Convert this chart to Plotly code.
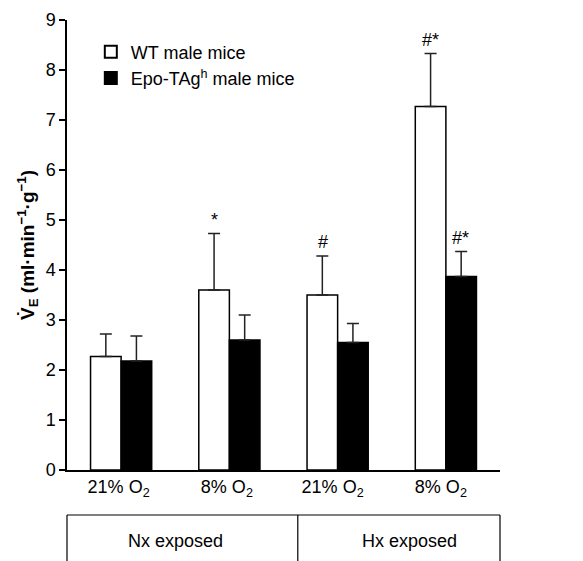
import plotly.graph_objects as go

categories = ["21% O<sub>2</sub> ", "8% O<sub>2</sub> ", "21% O<sub>2</sub>  ", "8% O<sub>2</sub>  "]
wt_values = [2.27, 3.60, 3.50, 7.27]
wt_errors = [0.45, 1.13, 0.78, 1.06]
epo_values = [2.18, 2.60, 2.55, 3.87]
epo_errors = [0.50, 0.50, 0.38, 0.50]
wt_marks = ["", "*", "#", "#*"]
epo_marks = ["", "", "", "#*"]
groups = ["Nx exposed", "Hx exposed"]

font = "Liberation Sans, Arial, sans-serif"

fig = go.Figure()
fig.add_trace(go.Bar(
    x=categories, y=wt_values, name="WT male mice",
    marker=dict(color="white", line=dict(color="black", width=1.5)),
    error_y=dict(type="data", symmetric=False, array=wt_errors,
                 arrayminus=[0] * 4, color="#222", thickness=1.5, width=6),
))
fig.add_trace(go.Bar(
    x=categories, y=epo_values, name="Epo-TAg<sup>h</sup> male mice",
    marker=dict(color="black", line=dict(color="black", width=1.5)),
    error_y=dict(type="data", symmetric=False, array=epo_errors,
                 arrayminus=[0] * 4, color="#222", thickness=1.5, width=6),
))

# significance marks
for i, (v, e, m) in enumerate(zip(wt_values, wt_errors, wt_marks)):
    if m:
        fig.add_annotation(x=categories[i], y=v + e, text=m, showarrow=False,
                           xshift=-15, yshift=14, font=dict(size=18, color="black", family=font))
for i, (v, e, m) in enumerate(zip(epo_values, epo_errors, epo_marks)):
    if m:
        fig.add_annotation(x=categories[i], y=v + e, text=m, showarrow=False,
                           xshift=15, yshift=14, font=dict(size=18, color="black", family=font))

# bottom group box
shapes = [
    dict(type="line", xref="paper", yref="paper", x0=0, x1=1, y0=-0.1, y1=-0.1,
         line=dict(color="black", width=1.2)),
    dict(type="line", xref="paper", yref="paper", x0=0, x1=0, y0=-0.1, y1=-0.3,
         line=dict(color="black", width=1.2)),
    dict(type="line", xref="paper", yref="paper", x0=0.533, x1=0.533, y0=-0.1, y1=-0.3,
         line=dict(color="black", width=1.2)),
    dict(type="line", xref="paper", yref="paper", x0=1, x1=1, y0=-0.1, y1=-0.3,
         line=dict(color="black", width=1.2)),
]
fig.add_annotation(xref="paper", yref="paper", x=0.25, y=-0.157, text=groups[0],
                   xanchor="center", yanchor="middle",
                   showarrow=False, font=dict(size=18, color="black", family=font))
fig.add_annotation(xref="paper", yref="paper", x=0.79, y=-0.157, text=groups[1],
                   xanchor="center", yanchor="middle",
                   showarrow=False, font=dict(size=18, color="black", family=font))

fig.update_layout(
    template="none",
    width=575, height=553,
    margin=dict(l=59, r=83, t=12, b=91),
    paper_bgcolor="white", plot_bgcolor="white",
    barmode="group", bargap=0.435, bargroupgap=0,
    shapes=shapes,
    font=dict(family=font, color="black"),
    legend=dict(x=0.055, y=0.97, xanchor="left", yanchor="top",
                bgcolor="rgba(0,0,0,0)", font=dict(size=18, family=font, color="black"),
                itemsizing="constant", tracegroupgap=0, itemwidth=30),
    showlegend=True,
)
fig.update_xaxes(showline=True, linecolor="black", linewidth=1.5, ticks="",
                 tickfont=dict(size=18, family=font, color="black"), fixedrange=True,
                 showgrid=False, zeroline=False, automargin=False)
fig.update_yaxes(range=[0, 9], dtick=1, showline=True, linecolor="black", linewidth=1.5,
                 ticks="outside", ticklen=6, tickwidth=1.5, tickcolor="black",
                 tickfont=dict(size=18, family=font, color="black"), showgrid=False,
                 zeroline=False, automargin=False,
                 title=dict(text="<b>V̇<sub>E</sub> (ml·min<sup>−1</sup>·g<sup>−1</sup>)</b>",
                            font=dict(size=19, family=font, color="black"), standoff=6))

fig.write_html("out.html")
